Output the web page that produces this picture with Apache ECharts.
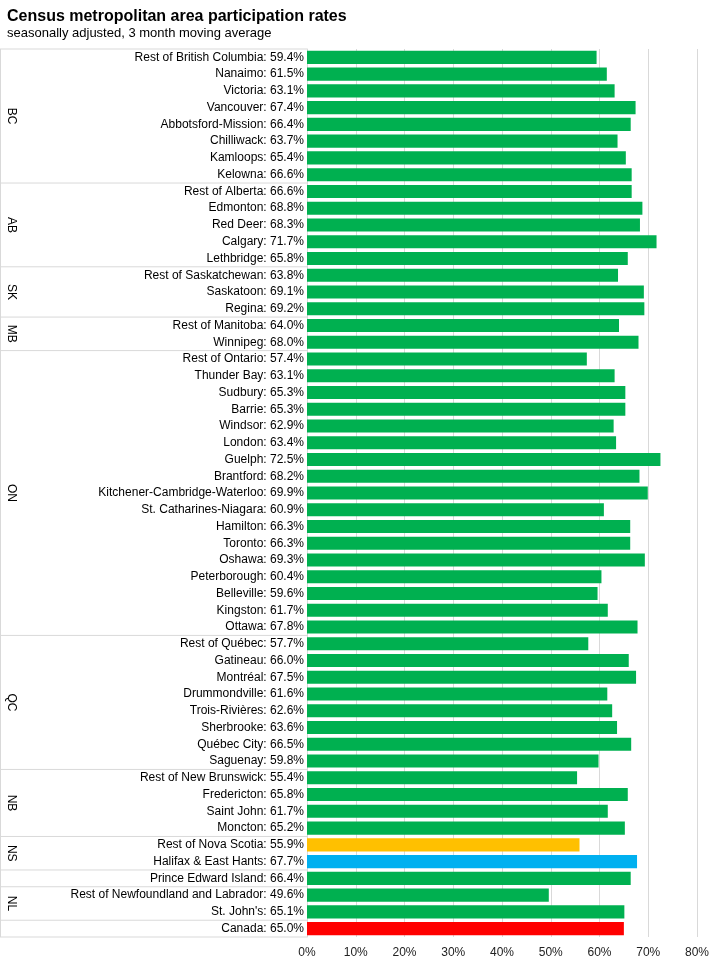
<!DOCTYPE html>
<html><head><meta charset="utf-8">
<script src="https://cdn.jsdelivr.net/npm/echarts@6/dist/echarts.min.js"></script>
<style>html,body{margin:0;padding:0;background:#fff}#chart{width:720px;height:961px}</style>
</head><body><div id="chart"></div>
<script>
const names = ['Rest of British Columbia','Nanaimo','Victoria','Vancouver','Abbotsford-Mission','Chilliwack','Kamloops','Kelowna',
  'Rest of Alberta','Edmonton','Red Deer','Calgary','Lethbridge',
  'Rest of Saskatchewan','Saskatoon','Regina',
  'Rest of Manitoba','Winnipeg',
  'Rest of Ontario','Thunder Bay','Sudbury','Barrie','Windsor','London','Guelph','Brantford','Kitchener-Cambridge-Waterloo','St. Catharines-Niagara','Hamilton','Toronto','Oshawa','Peterborough','Belleville','Kingston','Ottawa',
  'Rest of Québec','Gatineau','Montréal','Drummondville','Trois-Rivières','Sherbrooke','Québec City','Saguenay',
  'Rest of New Brunswick','Fredericton','Saint John','Moncton',
  'Rest of Nova Scotia','Halifax & East Hants',
  'Prince Edward Island',
  'Rest of Newfoundland and Labrador',"St. John's",
  'Canada'];
const rates = [59.4,61.5,63.1,67.4,66.4,63.7,65.4,66.6,
  66.6,68.8,68.3,71.7,65.8,
  63.8,69.1,69.2,
  64.0,68.0,
  57.4,63.1,65.3,65.3,62.9,63.4,72.5,68.2,69.9,60.9,66.3,66.3,69.3,60.4,59.6,61.7,67.8,
  57.7,66.0,67.5,61.6,62.6,63.6,66.5,59.8,
  55.4,65.8,61.7,65.2,
  55.9,67.7,
  66.4,
  49.6,65.1,
  65.0];
const groups = [['BC',8],['AB',5],['SK',3],['MB',2],['ON',17],['QC',8],['NB',4],['NS',2],['',1],['NL',2],['',1]];
const specialColors = {'Rest of Nova Scotia':'#FFC000','Halifax & East Hants':'#00B0F0','Canada':'#FF0000'};
const xTicks = [0,10,20,30,40,50,60,70,80];

const cats = names.map((n,i)=>n+': '+rates[i].toFixed(1)+'%');
const chart = echarts.init(document.getElementById('chart'));
chart.setOption({
  animation:false,
  textStyle:{fontFamily:'Liberation Sans'},
  title:{text:'Census metropolitan area participation rates',subtext:'seasonally adjusted, 3 month moving average',
    left:2,top:4,itemGap:2,
    textStyle:{fontSize:16,fontWeight:'bold',color:'#000'},
    subtextStyle:{fontSize:13,color:'#000'}},
  grid:{left:307,right:23,top:49,bottom:24,containLabel:false},
  xAxis:{type:'value',min:0,max:80,interval:10,
    axisLabel:{formatter:v=>v+'%',color:'#222',fontSize:12,margin:10},
    splitLine:{lineStyle:{color:'#d9d9d9'}},axisLine:{show:false},axisTick:{show:false}},
  yAxis:{type:'category',inverse:true,data:cats,
    axisLabel:{color:'#000',fontSize:12,interval:0,margin:3},
    axisLine:{lineStyle:{color:'#d9d9d9'}},axisTick:{show:false}},
  series:[{type:'bar',barCategoryGap:'22%',
    data:rates.map((v,i)=>({value:v,itemStyle:{color:specialColors[names[i]]||'#00B050'}}))}]
});
// group separators and labels
const g=[];
const half=(chart.convertToPixel({yAxisIndex:0},cats[1])-chart.convertToPixel({yAxisIndex:0},cats[0]))/2;
let idx=0;
const top0=chart.convertToPixel({yAxisIndex:0},cats[0])-half;
g.push({type:'line',shape:{x1:0.5,y1:top0,x2:0.5,y2:chart.convertToPixel({yAxisIndex:0},cats[cats.length-1])+half},style:{stroke:'#d9d9d9'}});
g.push({type:'line',shape:{x1:0,y1:top0,x2:307,y2:top0},style:{stroke:'#d9d9d9'}});
groups.forEach(([lab,n])=>{
  const y1=chart.convertToPixel({yAxisIndex:0},cats[idx])-half;
  const y2=chart.convertToPixel({yAxisIndex:0},cats[idx+n-1])+half;
  g.push({type:'line',shape:{x1:0,y1:y2,x2:307,y2:y2},style:{stroke:'#d9d9d9'}});
  if(lab) g.push({type:'text',x:11,y:(y1+y2)/2,rotation:-Math.PI/2,
    style:{text:lab,fill:'#000',font:'12px Liberation Sans',align:'center',verticalAlign:'middle'}});
  idx+=n;
});
chart.setOption({graphic:g});
</script></body></html>
